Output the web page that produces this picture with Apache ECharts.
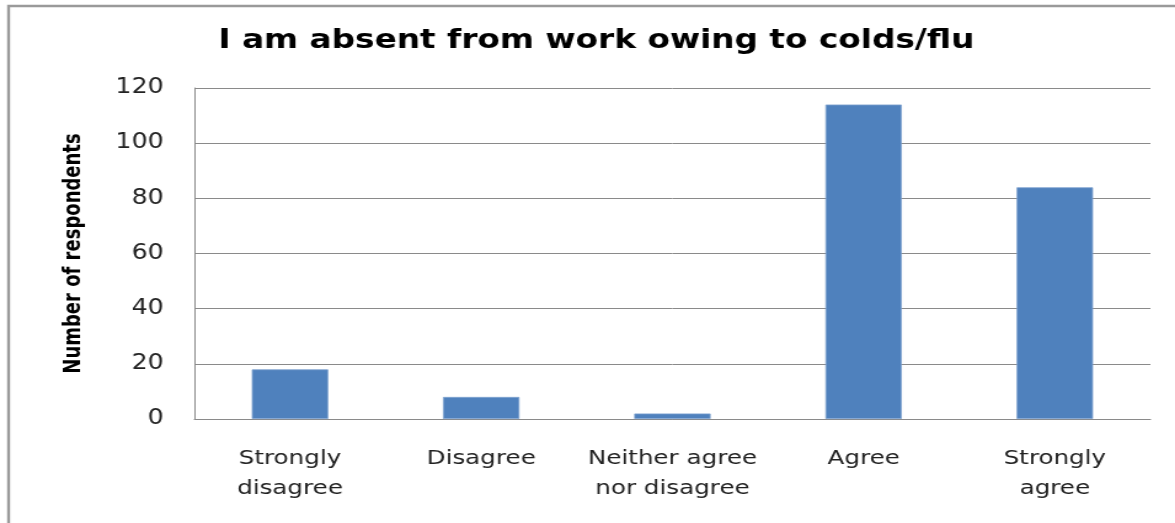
<!DOCTYPE html>
<html>
<head>
<meta charset="utf-8">
<script src="https://cdn.jsdelivr.net/npm/echarts@6/dist/echarts.min.js"></script>
<style>
  html, body { margin: 0; padding: 0; background: #fff; overflow: hidden; }
  #wrap { width: 1175px; height: 523px; overflow: hidden; }
  /* chart is laid out narrower, then widened to the page width */
  #chart { width: 955px; height: 523px; transform: scaleX(1.2304); transform-origin: 0 0; }
</style>
</head>
<body>
<div id="wrap"><div id="chart"></div></div>
<script>
// Survey responses: "I am absent from work owing to colds/flu"
const titleText = 'I am absent from work owing to colds/flu';
const categories = ['Strongly\ndisagree', 'Disagree', 'Neither agree\nnor disagree', 'Agree', 'Strongly\nagree'];
const respondents = [18, 8, 2, 114, 84];
const yTicks = { min: 0, max: 120, interval: 20 };
const yAxisName = 'Number of respondents';

const chart = echarts.init(document.getElementById('chart'), null, { renderer: 'canvas' });

const gridColor = '#8a8a8a';
const textFont = '"DejaVu Sans", Verdana, sans-serif';

chart.setOption({
  animation: false,
  backgroundColor: '#ffffff',
  title: {
    text: titleText,
    left: 172.5,
    top: 23,
    textStyle: {
      fontFamily: textFont,
      fontWeight: 'bold',
      fontSize: 26.6,
      color: '#000000'
    }
  },
  graphic: [{
    type: 'rect',
    silent: true,
    shape: { x: 7, y: 6, width: 2000, height: 2000 },
    style: { fill: 'none', stroke: '#9a9a9a', lineWidth: 2.4 }
  }],
  grid: {
    left: 158,
    right: 20,
    top: 88,
    bottom: 104,
    containLabel: false
  },
  xAxis: {
    type: 'category',
    data: categories,
    axisLine: { show: true, lineStyle: { color: gridColor, width: 1 } },
    axisTick: { show: false },
    axisLabel: {
      interval: 0,
      margin: 25,
      fontFamily: textFont,
      fontSize: 20,
      lineHeight: 30,
      color: '#222222'
    }
  },
  yAxis: {
    type: 'value',
    min: yTicks.min,
    max: yTicks.max,
    interval: yTicks.interval,
    name: yAxisName,
    nameLocation: 'middle',
    nameGap: 88,
    nameTextStyle: {
      fontFamily: '"Liberation Sans Narrow", "DejaVu Sans Condensed", sans-serif',
      fontWeight: 'bold',
      fontSize: 20,
      color: '#000000'
    },
    axisLine: { show: true, lineStyle: { color: gridColor, width: 1 } },
    axisTick: { show: false },
    splitLine: { show: true, lineStyle: { color: gridColor, width: 1 } },
    axisLabel: {
      margin: 25,
      fontFamily: textFont,
      fontSize: 20.5,
      color: '#222222'
    }
  },
  series: [{
    type: 'bar',
    data: respondents,
    barCategoryGap: '60%',
    itemStyle: {
      color: '#4f81bd',
      borderColor: '#7ea2cf',
      borderWidth: 0.8
    }
  }]
});
</script>
</body>
</html>
